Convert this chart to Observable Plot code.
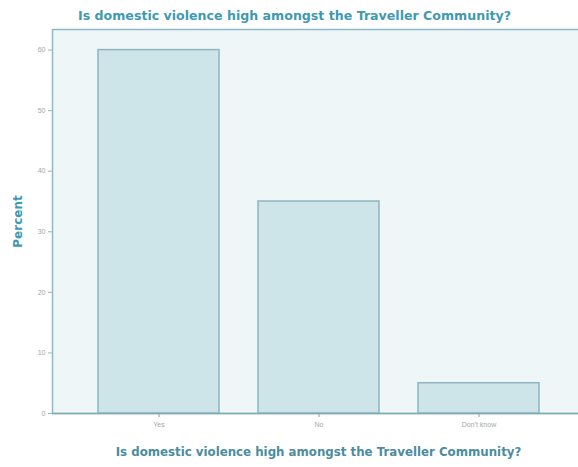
<!DOCTYPE html>
<html><head><meta charset="utf-8">
<script src="https://cdn.jsdelivr.net/npm/d3@7"></script>
<script src="https://cdn.jsdelivr.net/npm/@observablehq/plot@0.6"></script>
<style>
body{margin:0;background:#fff;font-family:"Liberation Sans",Arial,sans-serif;}
</style></head><body>
<div id="chart"></div>
<script>
const categories = ["Yes", "No", "Don't know"];
const percents = [60, 35, 5];
const yTicks = [0, 10, 20, 30, 40, 50, 60];
const titleText = "Is domestic violence high amongst the Traveller Community?";

const data = categories.map((c, i) => ({answer: c, percent: percents[i]}));
const boldFont = "DejaVu Sans, Verdana, sans-serif";

const chart = Plot.plot({
  width: 578,
  height: 467,
  marginTop: 29,
  marginBottom: 54,
  marginLeft: 52,
  marginRight: -6,
  style: {background: "#fff", fontFamily: "Liberation Sans, Arial, sans-serif"},
  x: {domain: categories, paddingInner: 0.244, paddingOuter: 0.2845, label: null},
  y: {domain: [0, 63.4], label: null},
  marks: [
    Plot.frame({fill: "#eef6f8", stroke: "#8dbac6", strokeWidth: 1.5}),
    Plot.barY(data, {x: "answer", y: "percent", fill: "#cde4e9", stroke: "#8fb5c0", strokeWidth: 1.5}),
    Plot.ruleY([0], {stroke: "#7fadb9", strokeWidth: 1.5}),
    Plot.axisY({ticks: yTicks, tickSize: 4, tickPadding: 3, fontSize: 7, color: "#a0a8ab", stroke: "#8dbac6", label: null}),
    Plot.axisX({tickSize: 4, tickPadding: 5, fontSize: 7, color: "#a0a8ab", stroke: "#8a9ea4", label: null}),
    Plot.text([titleText], {frameAnchor: "top", lineAnchor: "middle", dy: -14, dx: -24, fill: "#3f9ab0", fontSize: 12.6, fontWeight: "bold", fontFamily: boldFont}),
    Plot.text([titleText], {frameAnchor: "bottom", lineAnchor: "middle", dy: 39, dx: 0, fill: "#4b8d9d", fontSize: 11.8, fontWeight: "bold", fontFamily: boldFont}),
    Plot.text(["Percent"], {frameAnchor: "left", textAnchor: "middle", dx: -34, dy: 0, rotate: -90, fill: "#3f9ab0", fontSize: 12, fontWeight: "bold", fontFamily: boldFont})
  ]
});
document.getElementById("chart").appendChild(chart);
</script>
</body></html>
